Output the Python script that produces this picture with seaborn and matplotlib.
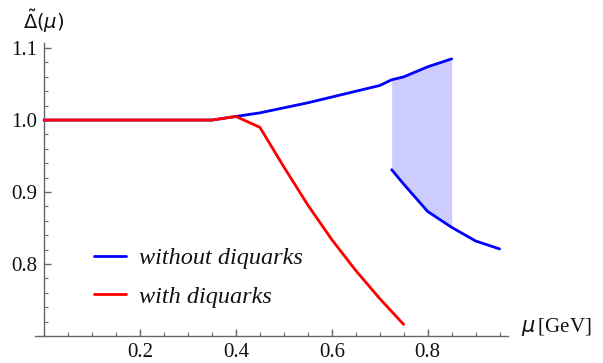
import numpy as np
import pandas as pd
import matplotlib
matplotlib.use("Agg")
import matplotlib.pyplot as plt
from matplotlib.ticker import MultipleLocator
import seaborn as sns

# Gap ratio Delta~(mu) without diquarks: upper branch (up to 0.85 GeV)
mu_nodq_upper = [0.0, 0.35, 0.40, 0.45, 0.50, 0.55, 0.60, 0.65, 0.70, 0.725, 0.75, 0.80, 0.85]
gap_nodq_upper = [1.0, 1.0, 1.005, 1.010, 1.017, 1.024, 1.032, 1.040, 1.048, 1.056, 1.060, 1.074, 1.085]

# Lower branch without diquarks (from 0.725 GeV)
mu_nodq_lower = [0.725, 0.75, 0.80, 0.85, 0.90, 0.95]
gap_nodq_lower = [0.931, 0.911, 0.873, 0.851, 0.832, 0.821]

# With diquarks
mu_dq = [0.0, 0.35, 0.40, 0.45, 0.50, 0.55, 0.60, 0.65, 0.70, 0.75]
gap_dq = [1.0, 1.0, 1.005, 0.990, 0.935, 0.882, 0.834, 0.791, 0.752, 0.716]

# Coexistence band between the two branches
mu_band = [0.725, 0.75, 0.80, 0.85]

label_nodq = "without diquarks"
label_dq = "with diquarks"

sns.set_theme(style="white")
plt.rcParams["font.family"] = ["Liberation Serif", "DejaVu Serif"]
plt.rcParams["mathtext.fontset"] = "dejavusans"

fig = plt.figure(figsize=(6.03, 3.63), dpi=100)
ax = fig.add_axes([0.058, 0.0744, 0.784, 0.807])

upper = pd.DataFrame({"mu": mu_nodq_upper, "gap": gap_nodq_upper})
lower = pd.DataFrame({"mu": mu_nodq_lower, "gap": gap_nodq_lower})
withdq = pd.DataFrame({"mu": mu_dq, "gap": gap_dq})

band_up = np.interp(mu_band, mu_nodq_upper, gap_nodq_upper)
band_lo = np.interp(mu_band, mu_nodq_lower, gap_nodq_lower)
ax.fill_between(mu_band, band_lo, band_up, color="#ccccff", linewidth=0, zorder=1)

sns.lineplot(data=upper, x="mu", y="gap", ax=ax, color="#0000ff", lw=2.0,
             estimator=None, label=label_nodq, zorder=3)
sns.lineplot(data=lower, x="mu", y="gap", ax=ax, color="#0000ff", lw=2.0,
             estimator=None, legend=False, zorder=3)
sns.lineplot(data=withdq, x="mu", y="gap", ax=ax, color="#ff0000", lw=2.0,
             estimator=None, label=label_dq, zorder=4)

ax.set_xlim(-0.019, 0.967)
ax.set_ylim(0.7, 1.107)
ax.set_xlabel("")
ax.set_ylabel("")

for s in ("top", "right"):
    ax.spines[s].set_visible(False)
axis_grey = "#666666"
ax.spines["left"].set_position(("data", 0.0))
ax.spines["left"].set_color(axis_grey)
ax.spines["bottom"].set_color(axis_grey)
ax.spines["left"].set_linewidth(1.0)
ax.spines["bottom"].set_linewidth(1.0)

ax.set_xticks([0.2, 0.4, 0.6, 0.8])
ax.set_xticklabels(["0.2", "0.4", "0.6", "0.8"])
ax.xaxis.set_minor_locator(MultipleLocator(0.05))
ax.set_yticks([0.8, 0.9, 1.0, 1.1])
ax.set_yticklabels(["0.8", "0.9", "1.0", "1.1"])
ax.yaxis.set_minor_locator(MultipleLocator(0.02))
ax.tick_params(which="both", direction="in", color=axis_grey, labelsize=15,
               labelcolor="#111111", bottom=True, left=True)
ax.tick_params(which="major", length=5, width=1.0, pad=5)
ax.tick_params(which="minor", length=3, width=0.8)

ax.text(0.0, 1.118, r"$\tilde{\Delta}(\mu)$", transform=ax.transData,
        ha="center", va="bottom", fontsize=14, color="#111111")
fig.text(521 / 603, 1 - 327 / 363, r"$\mu\,$[GeV]", ha="left", va="center",
         fontsize=15, color="#111111")

leg = ax.legend(loc="upper left", bbox_to_anchor=(94 / 603, 1 - 247 / 363),
                bbox_transform=fig.transFigure, frameon=False,
                prop={"family": ["Liberation Serif"], "style": "italic", "size": 17.5},
                handlelength=1.3, handletextpad=0.55, labelspacing=0.68,
                borderaxespad=0, borderpad=0)
for t in leg.get_texts():
    t.set_color("#111111")

fig.savefig("out.png", dpi=100)
